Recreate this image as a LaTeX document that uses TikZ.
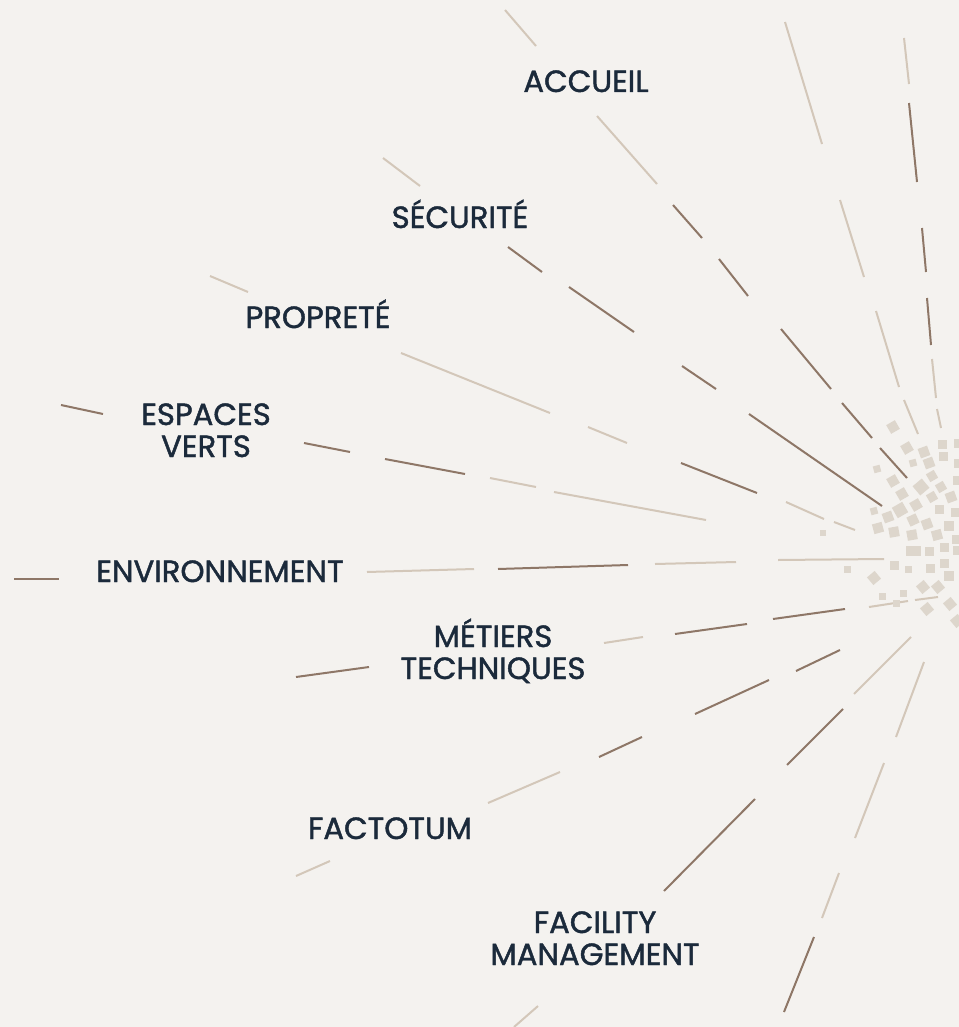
\documentclass[tikz,border=0pt]{standalone}
\usepackage{fontspec}
\setmainfont{Poppins}
\newfontfamily\lblfont{Poppins}[FakeBold=1.4]
\definecolor{bgc}{HTML}{F4F2EF}
\definecolor{rayLight}{HTML}{D3C7B9}
\definecolor{rayDark}{HTML}{8E7767}
\definecolor{sqcol}{HTML}{DDD6CC}
\definecolor{ink}{HTML}{1B2A3B}
\newcommand\dotsq[4]{\fill[sqc,shift={(#1,#2)},rotate=#4] (-#3/2,-#3/2) rectangle (#3/2,#3/2);}
\begin{document}
\begin{tikzpicture}[x=0.75pt,y=-0.75pt,
  lt/.style={draw=rayLight,line width=1.5pt},
  dk/.style={draw=rayDark,line width=1.5pt},
  sqc/.style={fill=sqcol},
  lbl/.style={text=ink,font=\lblfont\fontsize{23}{24}\selectfont,inner sep=0pt,align=center}]
\useasboundingbox (0,0) rectangle (959,1027);
\fill[bgc] (0,0) rectangle (959,1027);

% ray: accueil
\draw[lt] (505,10) -- (536,46);
\draw[lt] (597,116) -- (657,184);
\draw[dk] (673,205) -- (702,238);
\draw[dk] (719,259) -- (748,296);
\draw[dk] (781,329) -- (831,389);
\draw[dk] (842,403) -- (872,438);
\draw[dk] (880,448) -- (907,478);
% steep rays top right
\draw[lt] (785,22) -- (822,144);
\draw[lt] (840,200) -- (864,277);
\draw[lt] (876,311) -- (899,387);
\draw[lt] (904,400) -- (918,434);
\draw[lt] (904,38) -- (909,84);
\draw[dk] (909,103) -- (917,182);
\draw[dk] (922,228) -- (926,272);
\draw[dk] (927,298) -- (931,345);
\draw[lt] (932,359) -- (936,398);
\draw[lt] (937,409) -- (941,428);
% ray: securite
\draw[lt] (383,158) -- (420,186);
\draw[dk] (508,247) -- (542,272);
\draw[dk] (569,287) -- (634,332);
\draw[dk] (682,366) -- (716,389);
\draw[dk] (749,414) -- (882,506);
% ray: proprete
\draw[lt] (210,276) -- (248,292);
\draw[lt] (401,353) -- (550,413);
\draw[lt] (588,427) -- (627,443);
\draw[dk] (681,463) -- (757,493);
\draw[lt] (786,502) -- (824,519);
\draw[lt] (834,522) -- (855,530);
% ray: espaces verts
\draw[dk] (61,405) -- (103,414);
\draw[dk] (304,443) -- (350,452);
\draw[dk] (385,459) -- (465,474);
\draw[lt] (490,478) -- (536,487);
\draw[lt] (554,492) -- (706,520);
% ray: environnement
\draw[dk] (14,579) -- (59,579);
\draw[lt] (367,572) -- (474,569);
\draw[dk] (498,569) -- (628,565);
\draw[lt] (655,564) -- (736,562);
\draw[lt] (778,560) -- (884,559);
% ray: metiers techniques
\draw[dk] (296,677) -- (369,667);
\draw[lt] (604,643) -- (643,637);
\draw[dk] (675,634) -- (747,624);
\draw[dk] (773,619) -- (845,609);
\draw[lt] (869,607) -- (908,601);
\draw[lt] (915,600) -- (938,597);
% ray: factotum
\draw[lt] (296,876) -- (330,861);
\draw[lt] (488,803) -- (560,772);
\draw[dk] (599,757) -- (642,737);
\draw[dk] (695,714) -- (769,680);
\draw[dk] (796,671) -- (840,650);
% ray: facility management
\draw[lt] (514,1027) -- (538,1006);
\draw[dk] (664,891) -- (755,799);
\draw[dk] (787,765) -- (843,709);
\draw[lt] (854,694) -- (911,637);
% ray: bottom right
\draw[dk] (784,1012) -- (814,937);
\draw[lt] (822,918) -- (839,873);
\draw[lt] (855,838) -- (884,763);
\draw[lt] (896,737) -- (924,662);

% squares
\dotsq{893}{427}{10}{30}
\dotsq{907}{448}{10}{30}
\dotsq{924}{452}{10}{20}
\dotsq{942}{444}{9}{0}
\dotsq{958}{443}{9}{0}
\dotsq{913}{463}{7}{15}
\dotsq{929}{463}{10}{20}
\dotsq{943}{456}{9}{0}
\dotsq{958}{463}{9}{0}
\dotsq{877}{469}{7}{15}
\dotsq{893}{481}{10}{30}
\dotsq{921}{487}{12}{40}
\dotsq{932}{476}{9}{30}
\dotsq{941}{487}{9}{30}
\dotsq{957}{480}{9}{0}
\dotsq{902}{494}{10}{30}
\dotsq{932}{497}{9}{30}
\dotsq{951}{497}{10}{20}
\dotsq{916}{505}{10}{30}
\dotsq{900}{510}{12}{30}
\dotsq{874}{511}{7}{15}
\dotsq{939}{509}{9}{0}
\dotsq{955}{512}{9}{0}
\dotsq{888}{517}{10}{20}
\dotsq{878}{528}{10}{15}
\dotsq{894}{532}{10}{10}
\dotsq{913}{520}{10}{25}
\dotsq{927}{524}{10}{20}
\dotsq{912}{535}{10}{10}
\dotsq{937}{535}{10}{15}
\dotsq{949}{526}{10}{0}
\dotsq{956}{539}{9}{0}
\fill[sqc] (906,546) rectangle (921,556);
\dotsq{929}{551}{9}{0}
\dotsq{944}{547}{9}{0}
\dotsq{957}{550}{9}{0}
\dotsq{894}{565}{9}{0}
\dotsq{908}{569}{7}{0}
\dotsq{930}{568}{9}{0}
\dotsq{944}{563}{9}{0}
\dotsq{847}{569}{7}{0}
\dotsq{874}{578}{10}{40}
\dotsq{923}{587}{10}{40}
\dotsq{938}{587}{10}{40}
\dotsq{949}{576}{10}{0}
\dotsq{882}{596}{7}{0}
\dotsq{903}{593}{7}{0}
\dotsq{896}{603}{7}{0}
\dotsq{927}{609}{10}{40}
\dotsq{950}{604}{10}{40}
\dotsq{957}{621}{10}{40}
\dotsq{823}{533}{6}{0}

% labels
\node[lbl,anchor=base] (accueil) at (586,92) {ACCUEIL};
\node[lbl,anchor=base] (securite) at (460,228) {SÉCURITÉ};
\node[lbl,anchor=base] (proprete) at (318,328) {PROPRETÉ};
\node[lbl,anchor=base] (espaces) at (206,457) {ESPACES\\VERTS};
\node[lbl,anchor=base] (environnement) at (220,582) {ENVIRONNEMENT};
\node[lbl,anchor=base] (metiers) at (493,679) {MÉTIERS\\TECHNIQUES};
\node[lbl,anchor=base] (factotum) at (390,839) {FACTOTUM};
\node[lbl,anchor=base] (facility) at (595,965) {FACILITY\\MANAGEMENT};
\end{tikzpicture}
\end{document}
